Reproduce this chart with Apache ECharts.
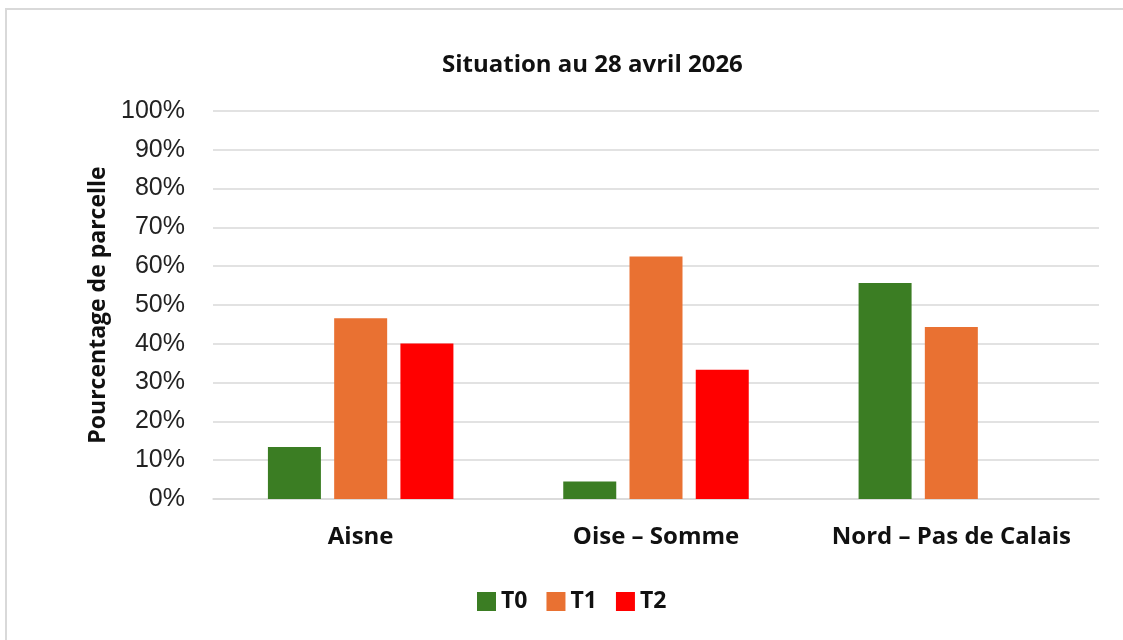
<!DOCTYPE html>
<html><head><meta charset="utf-8">
<script src="https://cdn.jsdelivr.net/npm/echarts@6/dist/echarts.min.js"></script>
<style>html,body{margin:0;padding:0;background:#fff}#c{width:1123px;height:640px}</style>
</head><body><div id="c"></div>
<script>
const categories = ['Aisne', 'Oise – Somme', 'Nord – Pas de Calais'];
const seriesNames = ['T0', 'T1', 'T2'];
const t0 = [13.4, 4.5, 55.7];
const t1 = [46.6, 62.5, 44.3];
const t2 = [40.1, 33.3, 0];
const colors = ['#3b7d23', '#e97132', '#ff0000'];
const seriesData = [t0, t1, t2];

const chart = echarts.init(document.getElementById('c'));
chart.setOption({
  animation: false,
  graphic: [{
    type: 'rect', shape: { x: 6, y: 9, width: 1140, height: 650 },
    style: { fill: 'none', stroke: '#d9d9d9', lineWidth: 2 }, silent: true
  }],
  title: {
    text: 'Situation au 28 avril 2026', left: 437, top: 48,
    textStyle: { fontFamily: 'Open Sans', fontWeight: 'bold', fontSize: 24, color: '#111' }
  },
  legend: {
    data: seriesNames, bottom: 22, left: 472,
    itemWidth: 19, itemHeight: 19, itemGap: 19,
    icon: 'rect',
    textStyle: { fontFamily: 'Open Sans', fontWeight: 'bold', fontSize: 23, color: '#111' }
  },
  grid: { left: 213, right: 24, top: 111, bottom: 141, containLabel: false },
  xAxis: {
    type: 'category', data: categories,
    axisLine: { lineStyle: { color: '#d9d9d9', width: 1.5 } },
    axisTick: { show: false },
    axisLabel: { interval: 0, fontFamily: 'Open Sans', fontWeight: 'bold', fontSize: 24, color: '#111', margin: 26 }
  },
  yAxis: {
    type: 'value', min: 0, max: 100, interval: 10,
    name: 'Pourcentage de parcelle', nameLocation: 'middle', nameGap: 103,
    nameTextStyle: { fontFamily: 'Open Sans', fontWeight: 'bold', fontSize: 23, color: '#111' },
    axisLine: { show: false }, axisTick: { show: false },
    axisLabel: { formatter: '{value}%', fontFamily: 'Liberation Sans', fontSize: 25, color: '#222', margin: 28 },
    splitLine: { lineStyle: { color: '#d9d9d9', width: 1.5 } }
  },
  series: seriesNames.map((n, i) => ({
    name: n, type: 'bar', data: seriesData[i],
    barWidth: 53, barGap: '25%',
    itemStyle: { color: colors[i] }
  }))
});
</script></body></html>
